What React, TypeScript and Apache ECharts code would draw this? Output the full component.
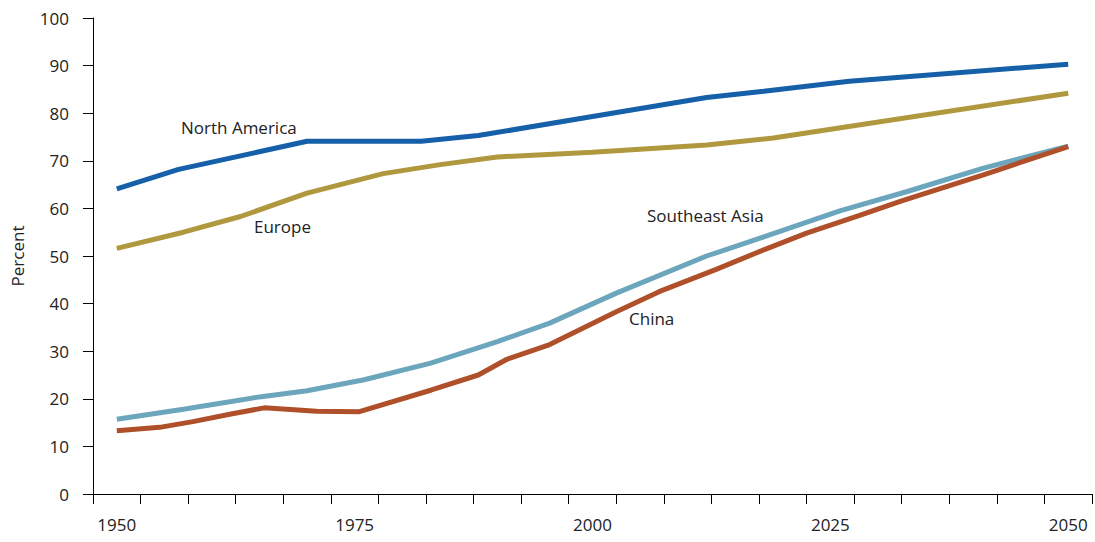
import React, { useEffect, useRef } from "react";
import * as echarts from "echarts";

const categories = ["1950","1955","1960","1965","1970","1975","1980","1985","1990","1995","2000","2005","2010","2015","2020","2025","2030","2035","2040","2045","2050"];
const yTicks = [0, 10, 20, 30, 40, 50, 60, 70, 80, 90, 100];

const northAmerica: [number, number][] = [[1950,64.1],[1956.5,68.2],[1970,74.1],[1982,74.1],[1988,75.3],[2000,79.3],[2012,83.3],[2018,84.6],[2027,86.7],[2050,90.3]];
const europe: [number, number][] = [[1950,51.6],[1957,55],[1963,58.3],[1970,63.2],[1978,67.3],[1984,69.2],[1990,70.8],[2000,71.8],[2012,73.3],[2019,74.8],[2050,84.2]];
const southeastAsia: [number, number][] = [[1950,15.7],[1957,17.8],[1965,20.4],[1970,21.7],[1976,24],[1983,27.5],[1990,32],[1995.5,35.9],[2002.5,42.2],[2012,50],[2018,54],[2026,59.5],[2033,63.5],[2041,68.4],[2050,73.1]];
const china: [number, number][] = [[1950,13.3],[1954.5,14],[1958,15.2],[1962,16.8],[1965.5,18.1],[1971,17.4],[1975.5,17.3],[1983,21.8],[1988,25],[1991,28.3],[1995.5,31.4],[2002.5,38.3],[2007,42.5],[2013,47.2],[2018,51.3],[2022.5,54.8],[2028,58.5],[2032.5,61.6],[2041,67],[2050,73]];

const FONT = "'Open Sans', 'Noto Sans', sans-serif";

export default function App() {
  const ref = useRef<HTMLDivElement>(null);
  useEffect(() => {
    if (!ref.current) return;
    const chart = echarts.init(ref.current, undefined, { renderer: "svg" });
    const line = (name: string, data: [number, number][], color: string) => ({
      type: "line",
      name,
      data,
      xAxisIndex: 0,
      showSymbol: false,
      symbol: "none",
      lineStyle: { color, width: 5 },
      itemStyle: { color },
      z: 3,
    });
    chart.setOption({
      animation: false,
      textStyle: { fontFamily: FONT },
      grid: { left: 93, right: 3, top: 18, bottom: 48, containLabel: false, outerBoundsMode: "none" },
      xAxis: [
        { type: "value", min: 1947.5, max: 2052.5, show: false },
        {
          type: "category",
          data: categories,
          boundaryGap: true,
          position: "bottom",
          axisLine: { show: true, lineStyle: { color: "#000", width: 1 } },
          axisTick: { show: true, interval: 0, length: 10, lineStyle: { color: "#000" } },
          axisLabel: { interval: 4, margin: 22, fontSize: 17, color: "#222", fontFamily: FONT },
          splitLine: { show: false },
        },
      ],
      yAxis: {
        type: "value",
        min: yTicks[0],
        max: yTicks[yTicks.length - 1],
        interval: 10,
        name: "Percent",
        nameLocation: "middle",
        nameRotate: 90,
        nameGap: 67,
        nameTextStyle: { fontSize: 17, color: "#222", fontFamily: FONT },
        axisLine: { show: true, lineStyle: { color: "#000", width: 1 } },
        axisTick: { show: true, length: 10, lineStyle: { color: "#000" } },
        axisLabel: { margin: 24, fontSize: 17, color: "#222", fontFamily: FONT },
        splitLine: { show: false },
      },
      series: [
        line("North America", northAmerica, "#1560A8"),
        line("Europe", europe, "#B0983E"),
        line("Southeast Asia", southeastAsia, "#6BA6BD"),
        line("China", china, "#B0502A"),
      ],
      graphic: [
        { type: "text", left: 181, top: 119, style: { text: "North America", fontSize: 17, fill: "#222", fontFamily: FONT } },
        { type: "text", left: 254, top: 218, style: { text: "Europe", fontSize: 17, fill: "#222", fontFamily: FONT } },
        { type: "text", left: 647, top: 207, style: { text: "Southeast Asia", fontSize: 17, fill: "#222", fontFamily: FONT } },
        { type: "text", left: 629, top: 310, style: { text: "China", fontSize: 17, fill: "#222", fontFamily: FONT } },
      ],
    });
    return () => chart.dispose();
  }, []);
  return <div ref={ref} style={{ width: 1095, height: 542, position: "absolute", left: 0, top: 0 }} />;
}
